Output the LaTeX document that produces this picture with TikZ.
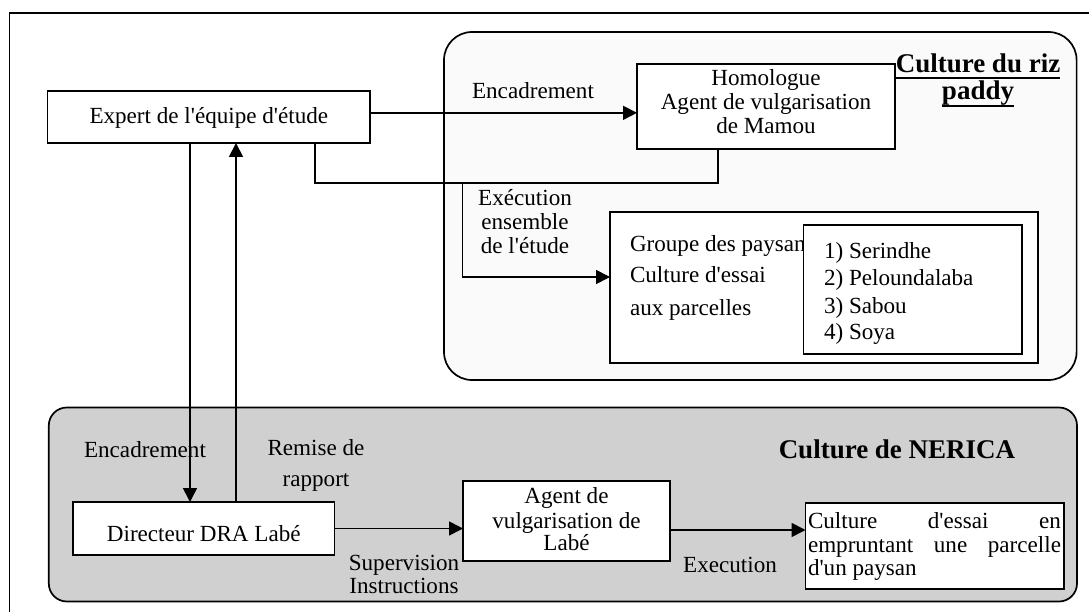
\documentclass[tikz,border=0pt]{standalone}
\usepackage{fontspec}
\setmainfont{Liberation Serif}
\usetikzlibrary{arrows.meta,calc}
\newcommand\qs{\textquotesingle}
\begin{document}
\begin{tikzpicture}[x=1pt,y=-1pt,
  every node/.style={inner sep=0pt, outer sep=0pt},
  txt/.style={font=\fontsize{23.1}{24}\selectfont},
  hd/.style={font=\fontsize{27}{28}\selectfont\bfseries},
  box/.style={draw, line width=1.7pt, fill=white},
  wire/.style={line width=1.7pt},
  arr/.style={wire, -{Triangle[length=14pt,width=14pt]}},
  panel/.style={draw, line width=1.7pt}]
\useasboundingbox (0,0) rectangle (1089,612);
\clip (0,0) rectangle (1089,612);

% outer frame
\draw[wire] (9.4,13.3) rectangle (1100,640);

% the two zones
\draw[panel, fill=gray!4, rounded corners=28pt] (444,32) rectangle (1076.6,380);
\draw[panel, fill={rgb,255:red,208;green,208;blue,208}, rounded corners=18pt] (48.8,407.5) rectangle (1077,601.5);

% zone titles
\node[hd, anchor=base] (ttlA) at (978,73) {Culture du riz};
\node[hd, anchor=base] (ttlB) at (978,100) {paddy};
\draw[line width=1.6pt] ([yshift=-5pt]ttlA.base west) -- ([yshift=-5pt]ttlA.base east);
\draw[line width=1.6pt] ([yshift=-6pt]ttlB.base west) -- ([yshift=-6pt]ttlB.base east);
\node[hd, anchor=base] (ttlC) at (897,458) {Culture de NERICA};

% boxes
\node[box, minimum width=322.4pt, minimum height=52.3pt] (exp) at (208.8,116.85) {};
\node[txt, anchor=base] (tExp) at (208.8,124) {Expert de l\qs équipe d\qs étude};

\node[box, minimum width=258pt, minimum height=85pt] (hom) at (766,106.5) {};
\node[txt, anchor=base] (tHom1) at (766,86) {Homologue};
\node[txt, anchor=base] (tHom2) at (766,110) {Agent de vulgarisation};
\node[txt, anchor=base] (tHom3) at (766,134) {de Mamou};

\node[box, minimum width=428pt, minimum height=151pt] (grp) at (824,287.5) {};
\node[txt, anchor=base west] (tGrp1) at (630,252) {Groupe des paysan};
\node[txt, anchor=base west] (tGrp2) at (630,283) {Culture d\qs essai};
\node[txt, anchor=base west] (tGrp3) at (630,315) {aux parcelles};

\node[box, minimum width=218.5pt, minimum height=129pt] (lst) at (912.75,289.5) {};
\node[txt, anchor=base west] (tLst1) at (824,259) {1) Serindhe};
\node[txt, anchor=base west] (tLst2) at (824,286) {2) Peloundalaba};
\node[txt, anchor=base west] (tLst3) at (824,313) {3) Sabou};
\node[txt, anchor=base west] (tLst4) at (824,339) {4) Soya};

\node[box, minimum width=261.5pt, minimum height=53pt] (dir) at (203.75,528.5) {};
\node[txt, anchor=base] (tDir) at (203.75,541) {Directeur DRA Labé};

\node[box, minimum width=207pt, minimum height=80pt] (agt) at (566.5,521) {};
\node[txt, anchor=base] (tAgt1) at (566.5,503) {Agent de};
\node[txt, anchor=base] (tAgt2) at (566.5,528) {vulgarisation de};
\node[txt, anchor=base] (tAgt3) at (566.5,550) {Labé};

\node[box, minimum width=258.5pt, minimum height=86pt] (ess) at (934.75,546) {};
\node[txt, anchor=base west] (tEss1) at (808,528) {\hbox to 253pt{Culture\hfill d\qs essai\hfill en}};
\node[txt, anchor=base west] (tEss2) at (808,552) {\hbox to 253pt{empruntant\hfill une\hfill parcelle}};
\node[txt, anchor=base west] (tEss3) at (808,575) {d\qs un paysan};

% connector labels
\node[txt, anchor=base] (lEnc1) at (533,99) {Encadrement};
\node[txt, anchor=base] (lExe1) at (525,206) {Exécution};
\node[txt, anchor=base] (lExe2) at (525,230) {ensemble};
\node[txt, anchor=base] (lExe3) at (525,254) {de l\qs étude};
\node[txt, anchor=base] (lEnc2) at (145,457) {Encadrement};
\node[txt, anchor=base] (lRem1) at (316,455) {Remise de};
\node[txt, anchor=base] (lRem2) at (316,486) {rapport};
\node[txt, anchor=base] (lSup1) at (404,570) {Supervision};
\node[txt, anchor=base] (lSup2) at (404,593) {Instructions};
\node[txt, anchor=base] (lExe4) at (730,572) {Execution};

% connectors
\coordinate (xd) at (190,0);
\coordinate (xu) at (236,0);
\coordinate (busL) at (315,183);
\coordinate (busR) at (718,183);
\coordinate (tap) at (462.5,183);

\draw[arr] ([yshift=4pt]exp.east) -- ([yshift=4pt]exp.east -| hom.west);
\draw[wire] (exp.south -| busL) -- (busL) -- (busR) -- (hom.south -| busR);
\draw[arr] (tap) |- ([yshift=10.5pt]grp.west);
\draw[arr] (exp.south -| xd) -- (dir.north -| xd);
\draw[arr] (dir.north -| xu) -- (exp.south -| xu);
\draw[arr] (dir.east) -- (dir.east -| agt.west);
\draw[arr] ([yshift=-9pt]agt.east) -- ([yshift=-9pt]agt.east -| ess.west);
\end{tikzpicture}
\end{document}
